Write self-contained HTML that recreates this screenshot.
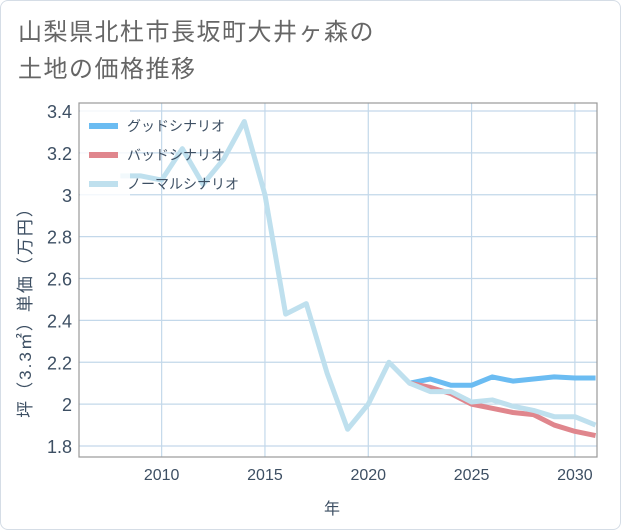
<!DOCTYPE html>
<html><head><meta charset="utf-8"><style>
body{margin:0;width:621px;height:530px;background:#fff;font-family:"Liberation Sans","Noto Sans CJK JP",sans-serif;overflow:hidden}
#card{position:absolute;left:0;top:0;width:619px;height:528px;border:1px solid #d5dde6;border-radius:8px;background:#fff}
#title{position:absolute;left:18px;top:14px;font-size:24px;line-height:37px;color:#666;letter-spacing:1.5px;white-space:nowrap}
</style></head><body>
<div id="card"></div>
<div id="title">山梨県北杜市長坂町大井ヶ森の<br>土地の価格推移</div>
<svg id="chart" width="621" height="530" style="position:absolute;left:0;top:0"></svg>
<script>
const years=[2008,2009,2010,2011,2012,2013,2014,2015,2016,2017,2018,2019,2020,2021,2022,2023,2024,2025,2026,2027,2028,2029,2030,2031];
const normalValues=[3.09,3.09,3.07,3.22,3.05,3.17,3.35,3.0,2.43,2.48,2.15,1.88,2.0,2.2,2.1,2.06,2.06,2.01,2.02,1.99,1.97,1.94,1.94,1.9];
const goodYears=[2022,2023,2024,2025,2026,2027,2028,2029,2030,2031];
const goodValues=[2.1,2.12,2.09,2.09,2.13,2.11,2.12,2.13,2.125,2.125];
const badValues=[2.1,2.08,2.05,2.0,1.98,1.96,1.95,1.9,1.87,1.85];
const yTicks=[1.8,2,2.2,2.4,2.6,2.8,3,3.2,3.4];
const xTicks=[2010,2015,2020,2025,2030];
const seriesNames=["グッドシナリオ","バッドシナリオ","ノーマルシナリオ"];
const L=79,R=597,T=103,B=457;
const x=v=>L+(v-2006)/(2031.07-2006)*(R-L);
const y=v=>446-(v-1.8)/1.6*335;
const svg=document.getElementById('chart');
const NS='http://www.w3.org/2000/svg';
function mk(t,a){const e=document.createElementNS(NS,t);for(const k in a)e.setAttribute(k,a[k]);svg.appendChild(e);return e;}
yTicks.forEach(v=>{
 const g=mk('line',{x1:L,x2:R,y1:y(v),y2:y(v),stroke:'#c3d8ea','stroke-width':1.2});
 
 
 const t=mk('text',{x:72,y:y(v)+7,'text-anchor':'end','font-size':18,fill:'#3d4f63'});
 t.textContent=String(v);
 
 
});
xTicks.forEach(v=>{
 const g=mk('line',{x1:x(v),x2:x(v),y1:T,y2:B,stroke:'#c3d8ea','stroke-width':1.2});
 
 
 const t=mk('text',{x:x(v),y:480,'text-anchor':'middle','font-size':16,fill:'#3d4f63'});
 t.textContent=String(v);
 
 
});
const fr=mk('rect',{x:L,y:T,width:R-L,height:B-T,fill:'none',stroke:'#999','stroke-width':1.2});


function line(xs,vs,color,name){
 const p=mk('polyline',{points:xs.map((yr,i)=>x(yr)+','+y(vs[i])).join(' '),fill:'none',stroke:color,'stroke-width':5,'stroke-linejoin':'round'});
 
 
}
line(goodYears,goodValues,'#6bbcf2','good-scenario-line');
line(goodYears,badValues,'#e0868d','bad-scenario-line');
line(years,normalValues,'#bfe0ee','normal-scenario-line');
const lb=mk('rect',{x:L+1,y:T+4,width:50,height:92,fill:'#fff','fill-opacity':0.8});


const colors=['#6bbcf2','#e0868d','#bfe0ee'];
seriesNames.forEach((n,i)=>{
 const yy=126+i*29;
 const s=mk('line',{x1:89,x2:118,y1:yy,y2:yy,stroke:colors[i],'stroke-width':6});
 
 
 const t=mk('text',{x:127,y:yy+5,'font-size':14,fill:'#3d4f63'});
 t.textContent=n;
 
 
});
const yt=mk('text',{x:0,y:0,'font-size':17,'letter-spacing':2,fill:'#3d4f63','text-anchor':'middle',transform:'translate(31,308) rotate(-90)'});
yt.textContent='坪（3.3㎡）単価（万円）';


const xt=mk('text',{x:332,y:514,'font-size':16,fill:'#3d4f63','text-anchor':'middle'});
xt.textContent='年';


</script>
</body></html>
